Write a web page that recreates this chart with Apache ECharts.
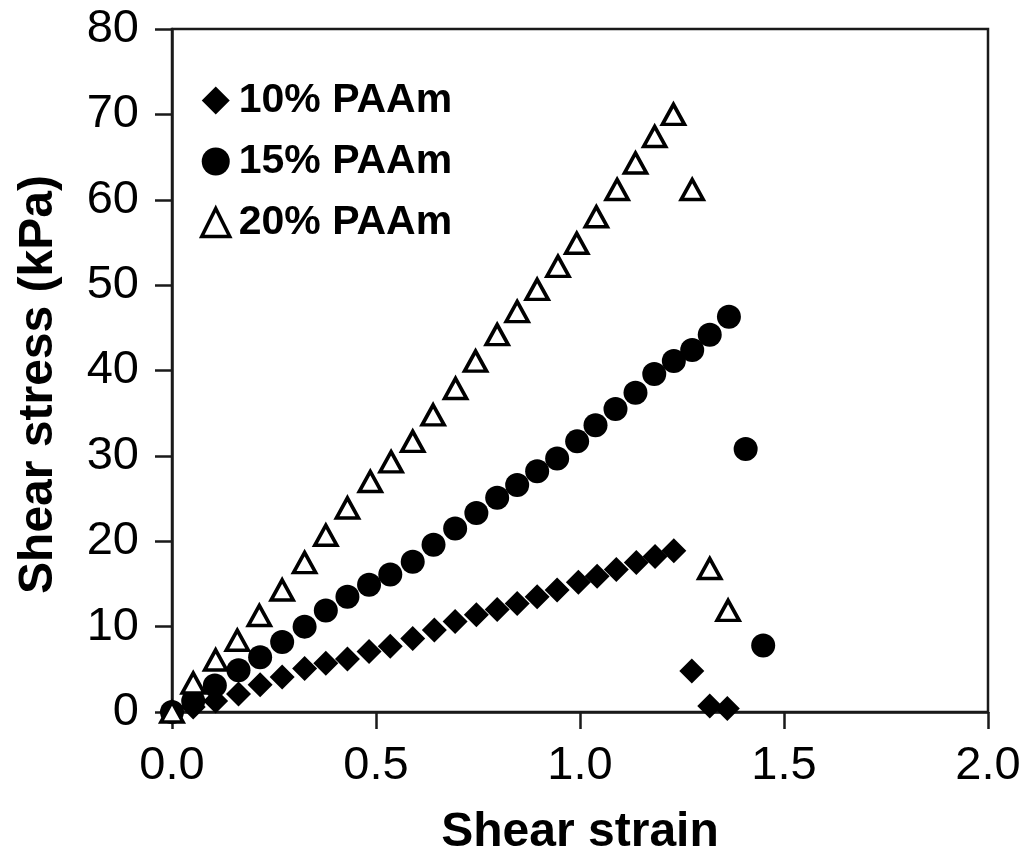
<!DOCTYPE html>
<html>
<head>
<meta charset="utf-8">
<script src="https://cdn.jsdelivr.net/npm/echarts@6/dist/echarts.min.js"></script>
<style>
html,body{margin:0;padding:0;background:#fff;}
#chart{width:1028px;height:850px;}
</style>
</head>
<body>
<div id="chart"></div>
<script>
// Data
const seriesNames = ['10% PAAm', '15% PAAm', '20% PAAm'];

const strain10 = [0, 0.052, 0.107, 0.163, 0.216, 0.27, 0.325, 0.377, 0.43, 0.483, 0.535, 0.59, 0.643, 0.694, 0.746, 0.797, 0.846, 0.895, 0.944, 0.996, 1.042, 1.089, 1.138, 1.184, 1.23, 1.274, 1.318, 1.361];
const stress10 = [0, 0.6, 1.3, 2.1, 3.2, 4.1, 5.1, 5.7, 6.2, 7.1, 7.7, 8.6, 9.6, 10.6, 11.4, 12.0, 12.7, 13.5, 14.3, 15.2, 15.9, 16.7, 17.5, 18.2, 18.9, 4.8, 0.7, 0.4];

const strain15 = [0, 0.052, 0.105, 0.163, 0.216, 0.27, 0.325, 0.377, 0.43, 0.483, 0.535, 0.59, 0.641, 0.694, 0.746, 0.797, 0.846, 0.895, 0.944, 0.993, 1.038, 1.087, 1.136, 1.182, 1.23, 1.275, 1.318, 1.365, 1.406, 1.449];
const stress15 = [0, 1.3, 3.1, 4.9, 6.4, 8.2, 10.0, 11.9, 13.5, 14.9, 16.1, 17.6, 19.6, 21.5, 23.3, 25.1, 26.6, 28.2, 29.7, 31.7, 33.6, 35.5, 37.4, 39.6, 41.1, 42.4, 44.2, 46.3, 30.8, 7.8];

const strain20 = [0, 0.052, 0.107, 0.16, 0.214, 0.27, 0.325, 0.377, 0.43, 0.486, 0.537, 0.59, 0.64, 0.695, 0.744, 0.797, 0.846, 0.895, 0.946, 0.992, 1.04, 1.091, 1.136, 1.183, 1.229, 1.275, 1.318, 1.363];
const stress20 = [0, 3.4, 6.1, 8.4, 11.3, 14.3, 17.5, 20.7, 23.9, 27.0, 29.3, 31.7, 34.8, 37.9, 41.1, 44.2, 46.9, 49.5, 52.2, 54.9, 58.0, 61.2, 64.3, 67.4, 70.0, 61.2, 16.8, 11.9];

const xTicks = [0, 0.5, 1.0, 1.5, 2.0];
const yTicks = [0, 10, 20, 30, 40, 50, 60, 70, 80];

function pairs(xs, ys) { return xs.map((x, i) => [x, ys[i]]); }

const FONT = '"Liberation Sans", Arial, Helvetica, sans-serif';
const chart = echarts.init(document.getElementById('chart'), null, {renderer: 'canvas'});

chart.setOption({
  backgroundColor: '#ffffff',
  animation: false,
  grid: {
    left: 172, right: 40, top: 29, bottom: 138,
    containLabel: false, outerBoundsMode: 'none',
    show: true, borderColor: '#1a1a1a', borderWidth: 2.5, backgroundColor: 'transparent'
  },
  legend: {
    orient: 'vertical',
    left: 200, top: 80, padding: 0,
    itemWidth: 28, itemHeight: 28, itemGap: 20,
    data: [
      {name: seriesNames[0]},
      {name: seriesNames[1]},
      {name: seriesNames[2], itemStyle: {color: '#fff', borderColor: '#000', borderWidth: 3.5}}
    ],
    textStyle: {fontFamily: FONT, fontSize: 41, fontWeight: 'bold', color: '#000', lineHeight: 26, padding: [0, 0, 0, 4]}
  },
  xAxis: {
    type: 'value',
    min: xTicks[0], max: xTicks[xTicks.length - 1], interval: 0.5,
    name: 'Shear strain', nameLocation: 'middle', nameGap: 97,
    nameTextStyle: {fontFamily: FONT, fontSize: 48, fontWeight: 'bold', color: '#000'},
    axisLine: {lineStyle: {color: '#1a1a1a', width: 2.5}},
    axisTick: {show: true, inside: false, length: 17, lineStyle: {color: '#1a1a1a', width: 2.5}},
    axisLabel: {fontFamily: FONT, fontSize: 47, color: '#000', margin: 31, formatter: v => v.toFixed(1)},
    splitLine: {show: false}
  },
  yAxis: {
    type: 'value',
    min: yTicks[0], max: yTicks[yTicks.length - 1], interval: 10,
    name: 'Shear stress (kPa)', nameLocation: 'middle', nameGap: 109, nameRotate: 90,
    nameTextStyle: {fontFamily: FONT, fontSize: 48, fontWeight: 'bold', color: '#000', padding: [0, 28, 0, 0]},
    axisLine: {lineStyle: {color: '#1a1a1a', width: 2.5}},
    axisTick: {show: true, inside: false, length: 17, lineStyle: {color: '#1a1a1a', width: 2.5}},
    axisLabel: {fontFamily: FONT, fontSize: 47, color: '#000', margin: 33},
    splitLine: {show: false}
  },
  series: [
    {
      name: seriesNames[0], type: 'scatter', symbol: 'diamond', symbolSize: 25,
      itemStyle: {color: '#000', opacity: 1},
      data: pairs(strain10, stress10), z: 2
    },
    {
      name: seriesNames[1], type: 'scatter', symbol: 'circle', symbolSize: 24,
      itemStyle: {color: '#000', opacity: 1},
      data: pairs(strain15, stress15), z: 3
    },
    {
      name: seriesNames[2], type: 'scatter', symbol: 'triangle', symbolSize: [22, 20],
      itemStyle: {color: '#fff', borderColor: '#000', borderWidth: 3.6, opacity: 1},
      data: pairs(strain20, stress20), z: 4
    }
  ]
});
</script>
</body>
</html>
